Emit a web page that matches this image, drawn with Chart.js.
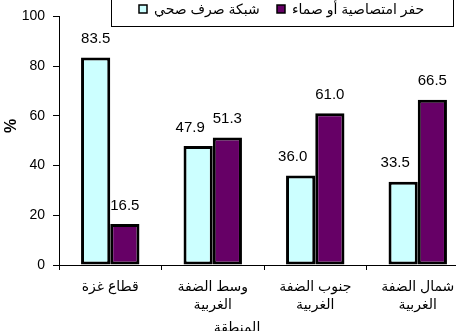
<!DOCTYPE html>
<html>
<head>
<meta charset="utf-8">
<script src="https://cdn.jsdelivr.net/npm/chart.js@4"></script>
<style>
  html, body { margin: 0; padding: 0; background: #fff; overflow: hidden; }
  #wrap { width: 474px; height: 331px; }
</style>
</head>
<body>
<div id="wrap"><canvas id="chartCanvas" width="474" height="331"></canvas></div>
<script>
const categories = [
  ["قطاع غزة"],
  ["وسط الضفة", "الغربية"],
  ["جنوب الضفة", "الغربية"],
  ["شمال الضفة", "الغربية"]
];
const seriesNames = ["شبكة صرف صحي", "حفر امتصاصية أو صماء"];
const sewerNetwork = [83.5, 47.9, 36.0, 33.5];
const cesspits = [16.5, 51.3, 61.0, 66.5];
const yTicks = [0, 20, 40, 60, 80, 100];
const xTitle = "المنطقة";
const yTitle = "%";

const FONT = "'Liberation Sans', 'DejaVu Sans', Arial, sans-serif";
const colors = ["#CCFFFF", "#660066"];
const legendSlots = [139, 277];

// value labels above bars, legend box and axis titles
const extras = {
  id: "extras",
  afterDatasetsDraw(chart) {
    const ctx = chart.ctx;
    ctx.save();
    ctx.font = "15px " + FONT;
    ctx.fillStyle = "#000";
    ctx.textAlign = "center";
    ctx.textBaseline = "bottom";
    chart.data.datasets.forEach((ds, di) => {
      const meta = chart.getDatasetMeta(di);
      meta.data.forEach((bar, i) => {
        let shift = 0;
        if (di === 0 && ds.data[i] < chart.data.datasets[1].data[i]) shift = -8;
        ctx.fillText(ds.data[i].toFixed(1), bar.x + shift, bar.y - 11);
      });
    });

    // legend
    ctx.fillStyle = "#fff";
    ctx.fillRect(111, -1, 343, 28);
    ctx.strokeStyle = "#000";
    ctx.lineWidth = 1;
    ctx.strokeRect(111.5, -1.5, 342, 28);
    ctx.font = "14px " + FONT;
    ctx.textAlign = "left";
    ctx.textBaseline = "middle";
    chart.data.datasets.forEach((ds, di) => {
      const x = legendSlots[di];
      ctx.fillStyle = colors[di];
      ctx.fillRect(x, 5, 8, 8);
      ctx.lineWidth = 1.5;
      ctx.strokeRect(x, 5, 8, 8);
      ctx.fillStyle = "#000";
      ctx.fillText(ds.label, x + 15, 10);
    });

    // axis titles
    ctx.font = "14px " + FONT;
    ctx.textAlign = "center";
    ctx.fillText(xTitle, chart.width / 2, 328);
    ctx.translate(12, 126);
    ctx.rotate(-Math.PI / 2);
    ctx.font = "bold 16px " + FONT;
    ctx.fillText(yTitle, 0, 0);
    ctx.restore();
  }
};

const ctx = document.getElementById("chartCanvas").getContext("2d");
const myChart = new Chart(ctx, {
  type: "bar",
  data: {
    labels: categories,
    datasets: [
      {
        label: seriesNames[0],
        data: sewerNetwork,
        backgroundColor: colors[0],
        borderColor: "#000",
        borderWidth: 3,
        borderSkipped: false
      },
      {
        label: seriesNames[1],
        data: cesspits,
        backgroundColor: colors[1],
        borderColor: "#000",
        borderWidth: 3,
        borderSkipped: false
      }
    ]
  },
  options: {
    responsive: false,
    animation: false,
    devicePixelRatio: 1,
    categoryPercentage: 0.57,
    barPercentage: 1,
    layout: { padding: { top: 16, right: 5, left: 0, bottom: 0 } },
    plugins: {
      legend: { display: false },
      tooltip: { enabled: false }
    },
    scales: {
      x: {
        afterFit: s => { s.height = 66; },
        border: { color: "#000", width: 1 },
        grid: { drawOnChartArea: false, color: "#000", tickLength: 5, offset: true },
        ticks: {
          color: "#000",
          padding: 8,
          maxRotation: 0,
          autoSkip: false,
          font: { family: FONT, size: 14, lineHeight: "18px" }
        }
      },
      y: {
        min: 0,
        max: 100,
        afterFit: s => { s.width = 59; },
        afterBuildTicks: s => { s.ticks = yTicks.map(v => ({ value: v })); },
        border: { color: "#000", width: 1 },
        grid: { drawOnChartArea: false, color: "#000", tickLength: 6 },
        ticks: {
          color: "#000",
          padding: 8,
          font: { family: FONT, size: 14 }
        }
      }
    }
  },
  plugins: [extras]
});
</script>
</body>
</html>
